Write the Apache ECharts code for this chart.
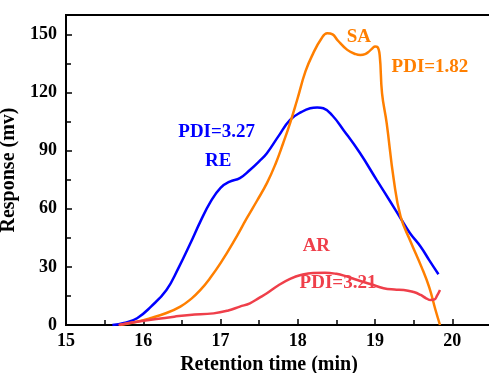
<!DOCTYPE html>
<html>
<head>
<meta charset="utf-8">
<script src="https://cdn.jsdelivr.net/npm/echarts@6/dist/echarts.min.js"></script>
<style>
  html, body { margin: 0; padding: 0; background: #fff; }
  #chart { width: 489px; height: 373px; }
</style>
</head>
<body>
<div id="chart"></div>
<script>
// GPC traces: retention time (min) vs detector response (mV)
const reTime = [15.6, 15.75, 15.92, 16.1, 16.3, 16.45, 16.61, 16.74, 16.87, 17.0, 17.12, 17.25, 17.38, 17.5, 17.6, 17.75, 17.9, 18.05, 18.16, 18.25, 18.33, 18.45, 18.59, 18.8, 19.02, 19.2, 19.33, 19.45, 19.59, 19.7, 19.82];
const reResp = [0, 1.0, 3.5, 9.5, 18.1, 29, 42.2, 53.5, 63.5, 70.8, 74, 75.8, 80, 84.5, 88.7, 97.5, 105.9, 110, 111.9, 112.3, 111.9, 108, 100.7, 89, 74.9, 63.5, 55.1, 47.5, 40.4, 33.5, 26.2];

const saTime = [15.7, 15.9, 16.09, 16.3, 16.48, 16.62, 16.74, 16.87, 17.0, 17.17, 17.34, 17.47, 17.6, 17.71, 17.81, 17.9, 17.99, 18.1, 18.2, 18.3, 18.38, 18.45, 18.51, 18.64, 18.75, 18.81, 18.87, 18.92, 18.97, 19.0, 19.03, 19.06, 19.09, 19.15, 19.24, 19.33, 19.46, 19.6, 19.7, 19.78, 19.84];
const saResp = [0, 1.5, 3.5, 6.2, 9.5, 13.5, 18.1, 24.5, 31.9, 43, 55.1, 64, 73.2, 83, 93.8, 104.2, 116, 131, 140.3, 147.5, 150.6, 150, 147.2, 142, 139.8, 139.4, 139.8, 141.1, 143, 143.7, 143.5, 139, 119.6, 104.2, 75.5, 56, 43, 30, 19.5, 8, 0];

const arTime = [15.68, 15.9, 16.17, 16.4, 16.6, 16.91, 17.1, 17.25, 17.38, 17.5, 17.6, 17.75, 17.9, 18.05, 18.2, 18.35, 18.5, 18.62, 18.77, 18.95, 19.11, 19.25, 19.37, 19.5, 19.59, 19.66, 19.72, 19.77, 19.8, 19.84];
const arResp = [0, 1.5, 3.1, 4.3, 5.2, 6.0, 7.5, 9.5, 11.2, 14, 16.4, 20.5, 23.8, 25.9, 26.9, 27.0, 26.4, 25.2, 23.2, 21, 19.0, 18.3, 18.1, 17, 15.5, 13.8, 12.9, 13.2, 15, 18.1];

const xTicks = [15, 16, 17, 18, 19, 20];
const yTicks = [0, 30, 60, 90, 120, 150];

// Annotations: text, time, response, and which trace's colour to use
const noteText = ['SA', 'PDI=1.82', 'PDI=3.27', 'RE', 'AR', 'PDI=3.21'];
const noteTime = [18.79, 19.71, 16.95, 16.97, 18.24, 18.52];
const noteResp = [148.8, 133.3, 99.8, 84.6, 40.8, 21.8];
const noteSeries = [1, 1, 0, 0, 2, 2];

const colors = ['#0000ff', '#ff7f00', '#ef3f4a'];
const names = ['RE', 'SA', 'AR'];
const FONT = '"Liberation Serif", "Times New Roman", serif';

function pairs(xs, ys) { return xs.map((x, i) => [x, ys[i]]); }
const seriesData = [pairs(reTime, reResp), pairs(saTime, saResp), pairs(arTime, arResp)];

const chart = echarts.init(document.getElementById('chart'), null, { renderer: 'canvas' });

const axisCommon = {
  axisLine: { show: true, onZero: false, lineStyle: { color: '#000', width: 2 } },
  axisTick: { show: true, inside: true, length: 6, lineStyle: { color: '#000', width: 1.5 } },
  minorTick: { show: true, splitNumber: 2, length: 5, lineStyle: { color: '#000', width: 1.5 } },
  splitLine: { show: false },
  axisLabel: { color: '#000', fontFamily: FONT, fontWeight: 'bold', fontSize: 18, showMaxLabel: false }
};

chart.setOption({
  animation: false,
  backgroundColor: '#fff',
  grid: {
    left: 66, top: 15, right: -2, bottom: 48,
    containLabel: false, outerBoundsMode: 'none',
    show: true, borderColor: '#000', borderWidth: 2, backgroundColor: 'transparent'
  },
  xAxis: Object.assign({}, axisCommon, {
    type: 'value', min: 15, max: 20.5, interval: 1,
    axisLabel: Object.assign({}, axisCommon.axisLabel, {
      margin: 7,
      formatter: v => (xTicks.indexOf(v) >= 0 ? String(v) : '')
    }),
    name: 'Retention time (min)', nameLocation: 'middle', nameGap: 28,
    nameTextStyle: { color: '#000', fontFamily: FONT, fontWeight: 'bold', fontSize: 20, padding: [0, 19, 0, 0] }
  }),
  yAxis: Object.assign({}, axisCommon, {
    type: 'value', min: 0, max: 160, interval: 30,
    axisLabel: Object.assign({}, axisCommon.axisLabel, {
      margin: 9,
      formatter: v => (yTicks.indexOf(v) >= 0 ? String(v) : '')
    }),
    name: 'Response (mv)', nameLocation: 'middle', nameGap: 38,
    nameTextStyle: { color: '#000', fontFamily: FONT, fontWeight: 'bold', fontSize: 20 }
  }),
  series: seriesData.map((d, i) => ({
    name: names[i],
    type: 'line',
    data: d,
    smooth: 0.45,
    showSymbol: false,
    symbol: 'none',
    lineStyle: { color: colors[i], width: 2.5 },
    z: 2 + i
  }))
});

// Place curve annotations at their data coordinates
chart.setOption({
  graphic: noteText.map((t, i) => {
    const p = chart.convertToPixel({ gridIndex: 0 }, [noteTime[i], noteResp[i]]);
    return {
      type: 'text', x: p[0], y: p[1], z: 10,
      style: {
        text: t, fill: colors[noteSeries[i]],
        font: 'bold 19px ' + FONT,
        textAlign: 'center', textVerticalAlign: 'middle'
      }
    };
  })
});
</script>
</body>
</html>
